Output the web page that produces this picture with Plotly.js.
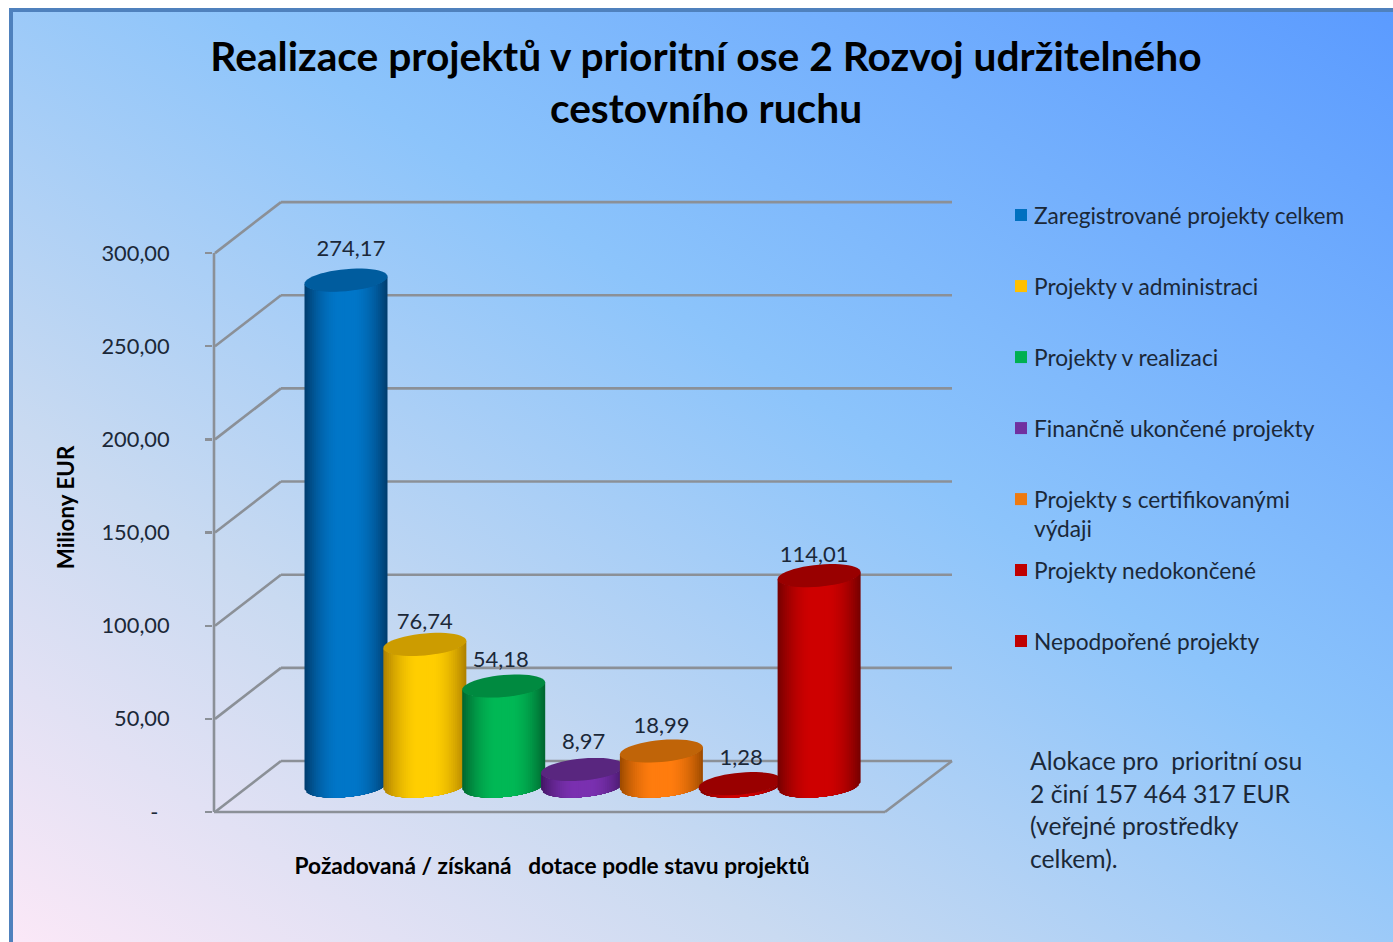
<!DOCTYPE html>
<html lang="cs">
<head>
<meta charset="utf-8">
<title>Realizace projektů</title>
<script src="https://cdn.plot.ly/plotly-3.0.1.min.js"></script>
<style>
html,body{margin:0;padding:0;background:#fff;overflow:hidden}
#frame{position:absolute;left:9px;top:8px;width:1380px;height:930px;border-left:4px solid #4f81bd;border-top:4px solid #4f81bd;
background:linear-gradient(to top right,#fbe8f7 0%,#c9daf1 28%,#8cc4fb 58%,#5b9bff 100%)}
#chart{position:absolute;left:0;top:0;width:1393px;height:942px}
</style>
</head>
<body>
<div id="frame"></div>
<div id="chart"></div>
<script>
// ---- data ----
const categories = ["Zaregistrované projekty celkem","Projekty v administraci","Projekty v realizaci",
  "Finančně ukončené projekty","Projekty s certifikovanými","Projekty nedokončené","Nepodpořené projekty"];
const values = [274.17, 76.74, 54.18, 8.97, 18.99, 1.28, 114.01];
const valueLabels = ["274,17","76,74","54,18","8,97","18,99","1,28","114,01"];
const tickValues = [0, 50, 100, 150, 200, 250, 300];
const tickLabels = ["-\u00A0\u00A0","50,00","100,00","150,00","200,00","250,00","300,00"];
const noteLines = ["Alokace pro  prioritní osu","2 činí 157 464 317 EUR","(veřejné prostředky","celkem)."];

// ---- styles ----
const legendColors = ["#0070c0","#ffc000","#00b050","#7030a0","#ee7a10","#c00000","#c00000"];
const centerColors = [[0,118,200],[255,206,0],[0,184,85],[122,48,176],[255,124,14],[206,0,0],[206,0,0]];
const edgeColors   = [[0,62,112],[176,130,0],[0,104,48],[70,24,104],[160,76,0],[120,0,0],[120,0,0]];
const capColors    = ["#005c9e","#cc9c00","#008a40","#59267f","#c06408","#990000","#990000"];
const labelNudgePx = [[5,-4],[0,4.6],[-3,1],[1,0.5],[0,3],[1,1.4],[-5,6.4]];
const FONT = "Lato, 'Open Sans', sans-serif";
const TEXT = "#1b2838", GRID = "#8b9097";

// ---- geometry of the pseudo-3D frame ----
const PL=213, PR=952, PT=195, PB=820;         // plot box in px
const AXIS_R=891;                             // x axis ends here, so that its title centres under the floor
const PX_PER_UNIT = 1.863;                    // px per value unit on the wall
const BAR_PX_PER_UNIT = 1.845;                // px per value unit on the cylinders
const ZERO_FRONT = 812, BASE_PX = 786;        // y of 0 on front axis, and of the cylinder base centre
const yRange = [(ZERO_FRONT-PB)/PX_PER_UNIT, (ZERO_FRONT-PT)/PX_PER_UNIT];
const y2Range = [(BASE_PX-PB)/BAR_PX_PER_UNIT, (BASE_PX-PT)/BAR_PX_PER_UNIT];
const CAT_STEP = 78.85, CAT0 = 346;
const xRange = [(PL-CAT0)/CAT_STEP, (AXIS_R-CAT0)/CAT_STEP];
const A = 41.5/CAT_STEP, B = 11/BAR_PX_PER_UNIT, TILT = 3.6/BAR_PX_PER_UNIT;
const xPaper = px => (px-PL)/(PR-PL);
const yPaper = py => (PB-py)/(PB-PT);

function shade(c0,c1,t){return "rgb("+c0.map((v,i)=>Math.round(v+(c1[i]-v)*t)).join(",")+")";}

const traces = [];
// real bars: hold the values and the legend
values.forEach((v,i)=>traces.push({type:"bar",x:[i],y:[v],width:[A*1.4],name:categories[i],yaxis:"y2",
  legendgroup:"g"+i,marker:{color:legendColors[i],line:{width:0}},hoverinfo:"skip"}));

// cylinder shading: nested fills from the dark edge towards the bright centre
const LEVELS = 22, ARC = 14;
values.forEach((v,i)=>{
  for(let k=0;k<LEVELS;k++){
    const f = 1-k/LEVELS, xs=[], ys=[];
    for(let j=0;j<=ARC;j++){const u=-f+2*f*j/ARC; xs.push(i+A*u); ys.push(-B*Math.sqrt(1-u*u)+TILT*u);}
    for(let j=ARC;j>=0;j--){const u=-f+2*f*j/ARC; xs.push(i+A*u); ys.push(v-B*Math.sqrt(1-u*u)+TILT*u);}
    xs.push(xs[0]); ys.push(ys[0]);
    const t = Math.min(1,(1-Math.pow(f,2.2))*1.05);
    traces.push({type:"scatter",mode:"none",fill:"toself",x:xs,y:ys,yaxis:"y2",showlegend:false,hoverinfo:"skip",
      fillcolor:shade(edgeColors[i],centerColors[i],t)});
  }
  const xs=[],ys=[];
  for(let j=0;j<=48;j++){const a=2*Math.PI*j/48,u=Math.cos(a); xs.push(i+A*u); ys.push(v+B*Math.sin(a)+TILT*u);}
  traces.push({type:"scatter",mode:"none",fill:"toself",x:xs,y:ys,yaxis:"y2",showlegend:false,hoverinfo:"skip",fillcolor:capColors[i]});
});

// data labels
traces.push({type:"scatter",mode:"text",x:values.map((v,i)=>i+labelNudgePx[i][0]/CAT_STEP),
  y:values.map((v,i)=>v+(26-labelNudgePx[i][1])/BAR_PX_PER_UNIT),text:valueLabels,yaxis:"y2",showlegend:false,hoverinfo:"skip",
  textposition:"middle center",textfont:{family:FONT,size:22,color:TEXT}});

// walls and floor
const line = (x0,y0,x1,y1)=>({type:"line",layer:"below",xref:"paper",yref:"y",x0:xPaper(x0),x1:xPaper(x1),y0,y1,line:{color:GRID,width:2.6}});
const DEPTH_X=66, DEPTH_V=51/PX_PER_UNIT;
const shapes=[];
tickValues.forEach(t=>{
  shapes.push(line(215,t,215+DEPTH_X,t+DEPTH_V));
  shapes.push(line(215+DEPTH_X,t+DEPTH_V,952,t+DEPTH_V));
});
shapes.push(line(214,0,214,300));
shapes.push(line(214,0,885,0));
shapes.push(line(885,0,952,DEPTH_V));

// annotations
const annotations = noteLines.map((s,i)=>({xref:"paper",yref:"paper",x:xPaper(1028),y:yPaper(760.5+32.7*i),xanchor:"left",yanchor:"middle",
  showarrow:false,text:s,font:{family:FONT,size:24.7,color:TEXT}}));
annotations.push({xref:"paper",yref:"paper",x:xPaper(1032),y:yPaper(528),xanchor:"left",yanchor:"middle",showarrow:false,
  text:"výdaji",font:{family:FONT,size:22.7,color:TEXT}});

const layout = {
  width:1393,height:942,autosize:false,showlegend:true,barmode:"overlay",
  paper_bgcolor:"rgba(0,0,0,0)",plot_bgcolor:"rgba(0,0,0,0)",
  margin:{l:PL,r:1393-PR,t:PT,b:942-PB,autoexpand:false,pad:0},
  font:{family:FONT,color:TEXT},
  title:{text:"Realizace projektů v prioritní ose 2 Rozvoj udržitelného<br>cestovního ruchu",
    font:{family:FONT,size:40.7,weight:700,color:"#000"},x:706/1393,xref:"container",xanchor:"center",y:1-70.5/942,yanchor:"top"},
  xaxis:{domain:[0,(AXIS_R-PL)/(PR-PL)],range:xRange,visible:true,showticklabels:false,ticks:"",showgrid:false,zeroline:false,showline:false,
    title:{text:"Požadovaná / získaná \u00A0 dotace podle stavu projektů",standoff:38,font:{family:FONT,size:22.7,weight:700,color:"#000"}}},
  yaxis:{range:yRange,tickmode:"array",tickvals:tickValues,ticktext:tickLabels,ticks:"outside",ticklen:7,tickwidth:2.4,tickcolor:GRID,
    ticklabelstandoff:31,showgrid:false,zeroline:false,showline:false,tickfont:{family:FONT,size:21.8,color:TEXT},
    title:{text:"Miliony EUR",standoff:20,font:{family:FONT,size:22.4,weight:700,color:"#000"}}},
  yaxis2:{range:y2Range,overlaying:"y",side:"left",visible:false,showgrid:false,zeroline:false},
  legend:{x:xPaper(1001),xanchor:"left",y:yPaper(193.8),yanchor:"top",traceorder:"grouped",tracegroupgap:38.5,
    bgcolor:"rgba(0,0,0,0)",borderwidth:0,font:{family:FONT,size:22.7,color:TEXT}},
  shapes,annotations
};

Plotly.newPlot("chart",traces,layout,{displayModeBar:false,staticPlot:true}).then(gd=>{
  // text sits closer to its swatch than Plotly's default gap
  gd.querySelectorAll(".legend .legendtext").forEach(t=>t.setAttribute("x","33"));
});
</script>
</body>
</html>
